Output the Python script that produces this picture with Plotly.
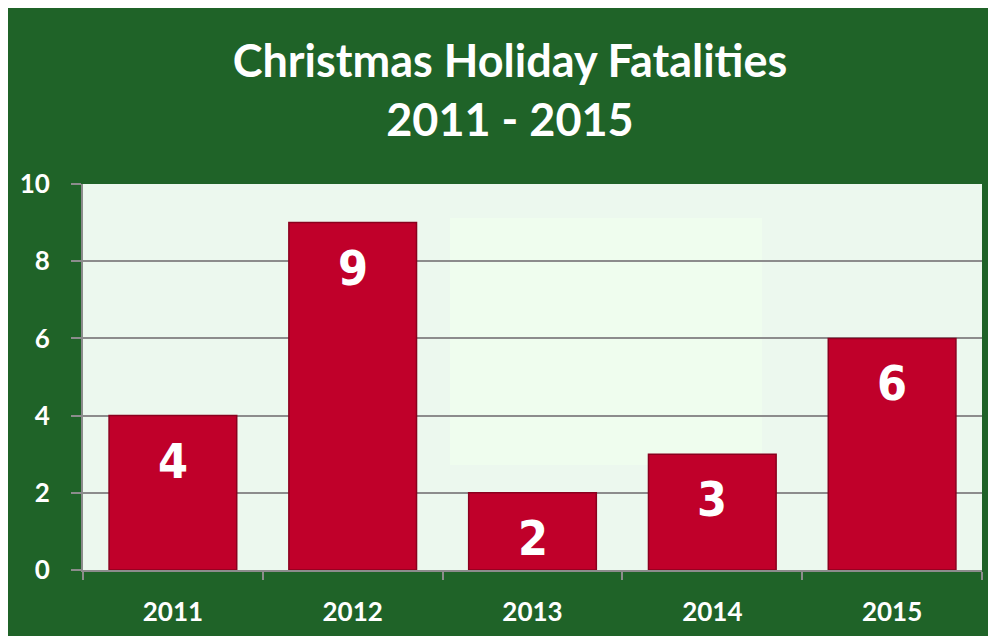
import plotly.graph_objects as go

years = ["2011", "2012", "2013", "2014", "2015"]
fatalities = [4, 9, 2, 3, 6]
y_ticks = [0, 2, 4, 6, 8, 10]
title_text = "Christmas Holiday Fatalities<br>2011 - 2015"

GREEN = "#1f6328"
BAR = "#c0002a"
W, H = 996, 636
# page is shown with an 8px body margin, so positions are expressed in figure coords
L, R, T, B = 75, 22, 176, 74
pw, ph = W - L - R, H - T - B

fig = go.Figure()
fig.add_trace(go.Bar(
    x=years, y=fatalities, width=0.71,
    marker=dict(color=BAR, line=dict(color="#8a001e", width=1.5)),
    hoverinfo="skip",
))

for i, v in enumerate(fatalities):
    fig.add_annotation(
        x=i, y=v, text=str(v), showarrow=False, yanchor="middle", yshift=-45,
        font=dict(family="DejaVu Sans Condensed, Liberation Sans Narrow, Roboto", size=48,
                  color="white", weight="bold"),
    )

def px_x(p):
    return (p - L) / pw

def px_y(p):
    return (H - B - p) / ph

shapes = [
    # faint lighter patch inside plot area
    dict(type="rect", xref="paper", yref="paper", layer="below",
         x0=px_x(442), x1=px_x(754), y0=px_y(210), y1=px_y(457),
         fillcolor="#effdee", line=dict(width=0)),
]

fig.update_layout(
    width=W, height=H,
    margin=dict(l=L, r=R, t=T, b=B, pad=0, autoexpand=False),
    paper_bgcolor=GREEN,
    plot_bgcolor="#ecf8ee",
    showlegend=False,
    shapes=shapes,
    title=dict(
        text=title_text, x=(510 - 8) / W, xanchor="center", y=1 - 69 / H, yanchor="middle",
        font=dict(family="Lato, Open Sans, sans-serif", size=45, color="white", weight="bold"),
    ),
    font=dict(family="Lato, Open Sans, sans-serif", color="white"),
)

fig.update_xaxes(
    type="category", range=[-0.5, 4.5], tickson="boundaries", ticks="outside", ticklen=8, tickwidth=2,
    tickcolor="#8c8c8c", showline=True, linecolor="#8c8c8c", linewidth=2,
    showgrid=False, ticklabelstandoff=18, automargin=False, tickangle=0,
    tickfont=dict(family="Lato, Open Sans, sans-serif", size=26, color="white", weight="bold"),
)
fig.update_yaxes(
    range=[0, 10], tickvals=y_ticks, ticks="outside", ticklen=10, tickwidth=2,
    tickcolor="#8c8c8c", showline=True, linecolor="#8c8c8c", linewidth=2,
    showgrid=True, gridcolor="#8c8c8c", gridwidth=2, zeroline=False,
    ticklabelstandoff=16, automargin=False,
    tickfont=dict(family="Lato, Open Sans, sans-serif", size=26, color="white", weight="bold"),
)

fig.write_html("out.html")
